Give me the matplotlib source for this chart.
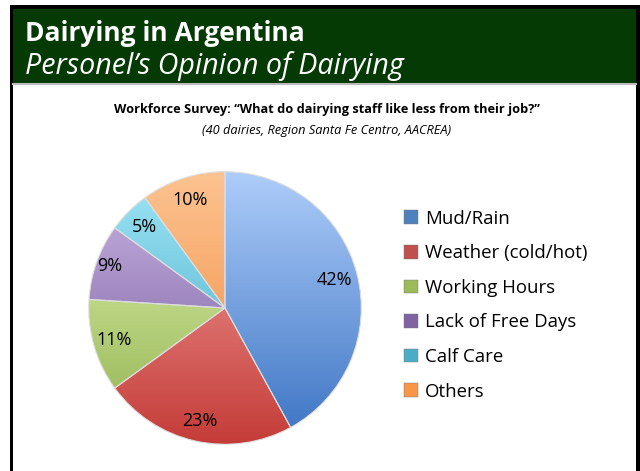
import matplotlib.pyplot as plt
import numpy as np
from matplotlib.colors import LinearSegmentedColormap
from matplotlib.patches import Rectangle

categories = ["Mud/Rain", "Weather (cold/hot)", "Working Hours",
              "Lack of Free Days", "Calf Care", "Others"]
values = [42, 23, 11, 9, 5, 10]
labels = ["42%", "23%", "11%", "9%", "5%", "10%"]

# light (top) / dark (bottom) shades per slice
light = ["#AECDFA", "#F6A7A5", "#E6F8B8", "#CDB9E6", "#9FE6F7", "#FCC391"]
dark = ["#3B73C2", "#C43C38", "#8FB04C", "#6E5296", "#3FA5C2", "#F0883A"]
mid = ["#4F81BD", "#C0504D", "#9BBB59", "#8064A2", "#4BACC6", "#F79646"]

W, H = 640, 471
fig = plt.figure(figsize=(W / 100, H / 100), dpi=100)
plt.rcParams['font.family'] = ['Open Sans', 'DejaVu Sans']

# frame and header
bg = fig.add_axes([0, 0, 1, 1])
bg.set_xlim(0, W)
bg.set_ylim(H, 0)
bg.axis('off')
bg.add_patch(Rectangle((10, 5), 630, 480, facecolor='black', edgecolor='none'))
bg.add_patch(Rectangle((13, 9), 623, 480, facecolor='white', edgecolor='none'))
bg.add_patch(Rectangle((13, 9), 623, 74, facecolor='#053A05', edgecolor='none'))
bg.plot([13, 636], [84, 84], color='#BBBBBB', lw=1.5)
bg.text(25, 41, "Dairying in Argentina", color='white', fontsize=19,
        fontweight='bold', va='baseline')
bg.text(25, 74, "Personel\u2019s Opinion of Dairying", color='white',
        fontsize=20.6, style='italic', va='baseline')
bg.text(327, 113, "Workforce Survey: \u201cWhat do dairying staff like less from their job?\u201d",
        fontsize=9.2, fontweight='bold', ha='center', va='baseline')
bg.text(327, 134, "(40 dairies, Region Santa Fe Centro, AACREA)",
        fontsize=9.2, style='italic', ha='center', va='baseline')

# pie
ax = fig.add_axes([86 / W, (H - 447) / H, 278 / W, 278 / H])
wedges, _ = ax.pie(values, startangle=90, counterclock=False, radius=1,
                   wedgeprops=dict(edgecolor='#DDDDDD', linewidth=0.8))
grad = np.linspace(0, 1, 256).reshape(-1, 1)
for i, w in enumerate(wedges):
    cmap = LinearSegmentedColormap.from_list("g%d" % i, [light[i], dark[i]])
    im = ax.imshow(grad, cmap=cmap, extent=(-1, 1, -1, 1), origin='upper',
                   aspect='auto', zorder=2)
    im.set_clip_path(w)
    w.set_zorder(3)
    w.set_facecolor('none')

label_r = [0.83, 0.85, 0.845, 0.9, 0.84, 0.83]
theta = 90.0
for i, v in enumerate(values):
    mid_ang = np.deg2rad(theta - v * 3.6 / 2)
    theta -= v * 3.6
    r = label_r[i]
    ax.text(r * np.cos(mid_ang), r * np.sin(mid_ang), labels[i],
            ha='center', va='center', fontsize=13, zorder=4)
ax.set_xlim(-1.02, 1.02)
ax.set_ylim(-1.02, 1.02)
ax.set_aspect('equal')
ax.axis('off')

handles = [Rectangle((0, 0), 1, 1, facecolor=c, edgecolor='#777777', lw=0.3) for c in mid]
fig.legend(handles, categories, loc='upper left',
           bbox_to_anchor=(387 / W, 1 - 193 / H), frameon=False,
           fontsize=13.4, labelspacing=0.89, handlelength=0.75, handleheight=0.75,
           handletextpad=0.4)

fig.savefig("out.png", dpi=100)
